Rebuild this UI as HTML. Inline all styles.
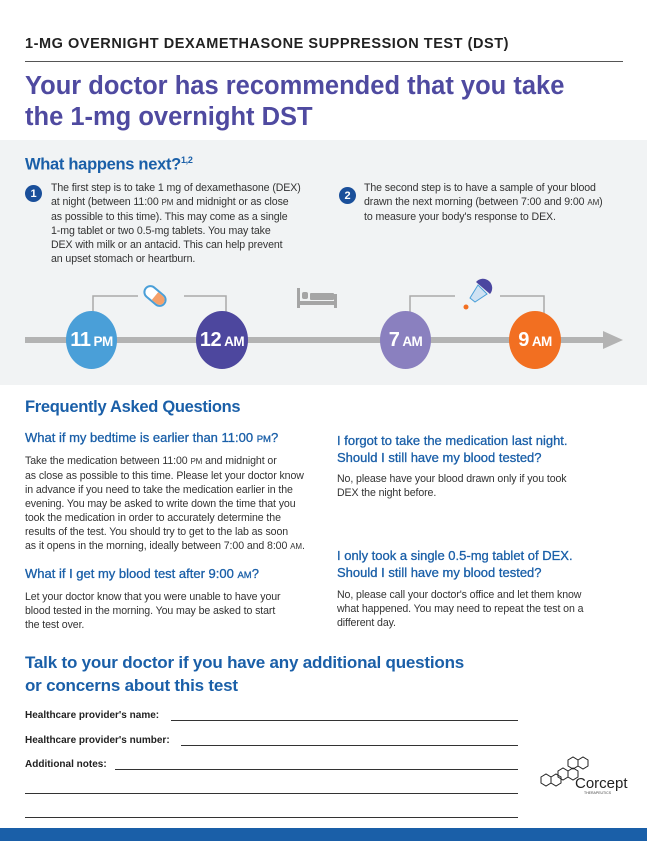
<!DOCTYPE html>
<html><head><meta charset="utf-8"><style>
*{margin:0;padding:0;box-sizing:border-box}
body{width:647px;height:841px;position:relative;background:#fff;font-family:"Liberation Sans",Arial,sans-serif;overflow:hidden;color:#333}
.a{position:absolute;white-space:nowrap}
.blue{color:#1a5fa8;font-weight:bold}
.body{font-size:10.6px;line-height:14px;color:#333;letter-spacing:-0.1px}
.sc{font-size:8px}
.circ{position:absolute;border-radius:50%;color:#fff;font-weight:bold;font-size:20px;display:flex;align-items:center;justify-content:center;letter-spacing:-0.5px}
.circ span{font-size:13.5px;margin-left:3px;margin-top:3px}
.num{position:absolute;width:17px;height:17px;border-radius:50%;background:#1a4f9a;color:#fff;font-size:11px;font-weight:bold;display:flex;align-items:center;justify-content:center}
.lbl{font-size:10px;font-weight:bold;color:#222}
.ln{position:absolute;height:1px;background:#333}
.q{font-size:13px;font-weight:normal;color:#1a5fa8;-webkit-text-stroke:0.3px #1a5fa8}
</style></head><body>
<div class="a" style="left:25px;top:36px;font-size:14.5px;font-weight:bold;color:#222;letter-spacing:0.55px">1-MG OVERNIGHT DEXAMETHASONE SUPPRESSION TEST (DST)</div>
<div class="a" style="left:25px;top:61px;width:598px;height:1px;background:#555"></div>
<div class="a" style="left:25px;top:71px;font-size:25.5px;line-height:31px;font-weight:bold;color:#4f4aa0;letter-spacing:0px">Your doctor has recommended that you take<br>the 1-mg overnight DST</div>

<div class="a" style="left:0;top:140px;width:647px;height:245px;background:#f1f3f4"></div>
<div class="a blue" style="left:25px;top:155px;font-size:16.5px;letter-spacing:-0.3px">What happens next?<sup style="font-size:9px">1,2</sup></div>
<div class="num" style="left:25px;top:185px">1</div>
<div class="a body" style="left:51px;top:181px">The first step is to take 1 mg of dexamethasone (DEX)<br>at night (between 11:00 <span class="sc">PM</span> and midnight or as close<br>as possible to this time). This may come as a single<br>1-mg tablet or two 0.5-mg tablets. You may take<br>DEX with milk or an antacid. This can help prevent<br>an upset stomach or heartburn.</div>
<div class="num" style="left:339px;top:187px">2</div>
<div class="a body" style="left:364px;top:181px">The second step is to have a sample of your blood<br>drawn the next morning (between 7:00 and 9:00 <span class="sc">AM</span>)<br>to measure your body's response to DEX.</div>

<svg class="a" style="left:0;top:270px" width="647" height="110">
<rect x="25" y="67" width="582" height="6" fill="#b3b3b3"/>
<polygon points="603,61 623,70 603,79" fill="#b3b3b3"/>
<polyline points="93,45 93,26 138,26" fill="none" stroke="#aaa" stroke-width="1.5"/>
<polyline points="184,26 226,26 226,45" fill="none" stroke="#aaa" stroke-width="1.5"/>
<polyline points="410,45 410,26 455,26" fill="none" stroke="#aaa" stroke-width="1.5"/>
<polyline points="500,26 544,26 544,45" fill="none" stroke="#aaa" stroke-width="1.5"/>
<g transform="translate(155,26) rotate(40)"><rect x="-12" y="-6" width="24" height="12" rx="6" fill="#fff" stroke="#4a9fd8" stroke-width="2"/><path d="M0,-5 H6 A5,5 0 0 1 6,5 H0 Z" fill="#f5a06a"/></g>
<g fill="#a5a5a5"><rect x="297" y="18" width="3" height="20"/><rect x="297" y="31" width="40" height="4"/><rect x="334" y="24" width="3" height="14"/><rect x="302" y="22" width="6" height="7" rx="2"/><rect x="310" y="23" width="24" height="7" rx="1"/></g>
<g><path d="M476,12 a9,9 0 0 1 14,12 z" fill="#4b46a0"/><path d="M478,15 l9,9 l-12,8 l-5,-4 z" fill="#cfe2f3" stroke="#4a9fd8" stroke-width="1"/><circle cx="466" cy="37" r="2.5" fill="#f26f21"/></g>
</svg>
<div class="circ" style="left:66px;top:311px;width:51px;height:58px;background:#4a9fd8">11<span>PM</span></div>
<div class="circ" style="left:196px;top:311px;width:52px;height:58px;background:#4d479e">12<span>AM</span></div>
<div class="circ" style="left:380px;top:311px;width:51px;height:58px;background:#8a80bf">7<span>AM</span></div>
<div class="circ" style="left:509px;top:311px;width:52px;height:58px;background:#f26f21">9<span>AM</span></div>

<div class="a blue" style="left:25px;top:398px;font-size:16.5px;letter-spacing:-0.3px">Frequently Asked Questions</div>
<div class="a q" style="left:25px;top:430px">What if my bedtime is earlier than 11:00 <span style="font-size:9.5px">PM</span>?</div>
<div class="a body" style="left:25px;top:454px">Take the medication between 11:00 <span class="sc">PM</span> and midnight or<br>as close as possible to this time. Please let your doctor know<br>in advance if you need to take the medication earlier in the<br>evening. You may be asked to write down the time that you<br>took the medication in order to accurately determine the<br>results of the test. You should try to get to the lab as soon<br>as it opens in the morning, ideally between 7:00 and 8:00 <span class="sc">AM</span>.</div>
<div class="a q" style="left:25px;top:566px">What if I get my blood test after 9:00 <span style="font-size:9.5px">AM</span>?</div>
<div class="a body" style="left:25px;top:590px">Let your doctor know that you were unable to have your<br>blood tested in the morning. You may be asked to start<br>the test over.</div>
<div class="a q" style="left:337px;top:432px;line-height:17px">I forgot to take the medication last night.<br>Should I still have my blood tested?</div>
<div class="a body" style="left:337px;top:472px">No, please have your blood drawn only if you took<br>DEX the night before.</div>
<div class="a q" style="left:337px;top:547px;line-height:17px">I only took a single 0.5-mg tablet of DEX.<br>Should I still have my blood tested?</div>
<div class="a body" style="left:337px;top:588px">No, please call your doctor's office and let them know<br>what happened. You may need to repeat the test on a<br>different day.</div>

<div class="a blue" style="left:25px;top:651px;font-size:17px;line-height:23px;letter-spacing:-0.2px">Talk to your doctor if you have any additional questions<br>or concerns about this test</div>
<div class="a lbl" style="left:25px;top:710px">Healthcare provider's name:</div>
<div class="ln" style="left:171px;top:720px;width:347px"></div>
<div class="a lbl" style="left:25px;top:735px">Healthcare provider's number:</div>
<div class="ln" style="left:181px;top:745px;width:337px"></div>
<div class="a lbl" style="left:25px;top:759px">Additional notes:</div>
<div class="ln" style="left:115px;top:769px;width:403px"></div>
<div class="ln" style="left:25px;top:793px;width:493px"></div>
<div class="ln" style="left:25px;top:817px;width:493px"></div>

<svg class="a" style="left:538px;top:755px" width="100" height="42">
<g fill="none" stroke="#222" stroke-width="1">
<polygon points="30,5 35,2 40,5 40,11 35,14 30,11"/><polygon points="40,5 45,2 50,5 50,11 45,14 40,11"/>
<polygon points="20,16 25,13 30,16 30,22 25,25 20,22"/><polygon points="30,16 35,13 40,16 40,22 35,25 30,22"/>
<polygon points="3,22 8,19 13,22 13,28 8,31 3,28"/><polygon points="13,22 18,19 23,22 23,28 18,31 13,28"/>
</g>
<text x="37" y="33" font-family="Liberation Sans" font-size="15" fill="#222">Corcept</text>
<text x="46" y="39" font-family="Liberation Sans" font-size="3.5" fill="#444">THERAPEUTICS</text>
</svg>
<div class="a" style="left:0;top:828px;width:647px;height:13px;background:#1a5fa8"></div>
</body></html>
